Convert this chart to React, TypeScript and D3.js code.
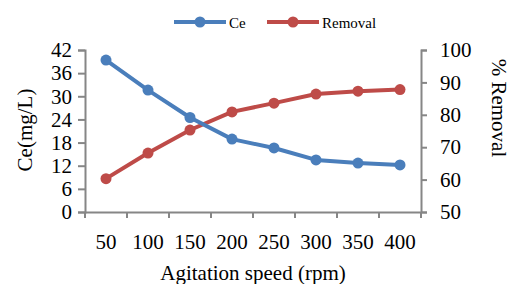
import { useEffect, useRef } from 'react';
import * as d3 from 'd3';

const speeds = ['50', '100', '150', '200', '250', '300', '350', '400'];
const ceValues = [39.4, 31.6, 24.5, 18.9, 16.6, 13.5, 12.7, 12.2];
const removalValues = [60.3, 68.2, 75.3, 80.9, 83.6, 86.4, 87.3, 87.8];
const leftTicks = [0, 6, 12, 18, 24, 30, 36, 42];
const rightTicks = [50, 60, 70, 80, 90, 100];

const BLUE = '#4a7ebb';
const RED = '#be4b48';
const AXIS = '#868686';
const FONT = "'Liberation Serif', 'Times New Roman', serif";

export default function App() {
  const svgRef = useRef<SVGSVGElement>(null);

  useEffect(() => {
    if (!svgRef.current) return;
    const svg = d3.select(svgRef.current);
    svg.selectAll('*').remove();

    const W = 512, H = 284;
    const left = 85, right = 421, top = 50, bottom = 212;

    const x = d3.scaleBand().domain(speeds).range([left, right]);
    const yL = d3.scaleLinear().domain([0, 42]).range([bottom, top]);
    const yR = d3.scaleLinear().domain([50, 100]).range([bottom, top]);

    const styleText = (sel: any, size = 21) =>
      sel.style('font-family', FONT).style('font-size', `${size}px`).attr('fill', '#000');

    // ── Axes ────────────────────────────────────────────────
    svg.append('g')
      .attr('transform', `translate(0,${bottom})`)
      .call(d3.axisBottom(x).tickSize(0).tickPadding(22))
      .call(g => g.select('.domain').attr('stroke', AXIS).attr('stroke-width', 2))
      .call(g => styleText(g.selectAll('text')));

    // x ticks at band boundaries
    const bounds = speeds.map(s => x(s)!).concat([right]);
    svg.append('g').selectAll('line').data(bounds).join('line')
      .attr('x1', d => d).attr('x2', d => d)
      .attr('y1', bottom).attr('y2', bottom + 6)
      .attr('stroke', AXIS).attr('stroke-width', 2);

    svg.append('g')
      .attr('transform', `translate(${left},0)`)
      .call(d3.axisLeft(yL).tickValues(leftTicks).tickSize(7).tickPadding(6))
      .call(g => g.select('.domain').attr('stroke', AXIS).attr('stroke-width', 2))
      .call(g => g.selectAll('.tick line').attr('stroke', AXIS).attr('stroke-width', 2))
      .call(g => styleText(g.selectAll('text')));

    svg.append('g')
      .attr('transform', `translate(${right},0)`)
      .call(d3.axisRight(yR).tickValues(rightTicks).tickSize(6).tickPadding(13))
      .call(g => g.select('.domain').attr('stroke', AXIS).attr('stroke-width', 2))
      .call(g => g.selectAll('.tick line').attr('stroke', AXIS).attr('stroke-width', 2))
      .call(g => styleText(g.selectAll('text')));

    // ── Titles ──────────────────────────────────────────────
    styleText(svg.append('text').attr('x', 253).attr('y', 280).attr('text-anchor', 'middle'))
      .text('Agitation speed (rpm)');
    styleText(svg.append('text').attr('transform', `translate(32,130) rotate(-90)`).attr('text-anchor', 'middle'))
      .text('Ce(mg/L)');
    styleText(svg.append('text').attr('transform', `translate(492,108) rotate(90)`).attr('text-anchor', 'middle'))
      .text('% Removal');

    // ── Series ──────────────────────────────────────────────
    const cx = (i: number) => x(speeds[i])! + x.bandwidth() / 2;
    const series = [
      { vals: removalValues, y: yR, color: RED },
      { vals: ceValues, y: yL, color: BLUE },
    ];
    series.forEach(s => {
      const line = d3.line<number>().x((_, i) => cx(i)).y(d => s.y(d));
      svg.append('path').datum(s.vals)
        .attr('fill', 'none').attr('stroke', s.color).attr('stroke-width', 4)
        .attr('stroke-linejoin', 'round').attr('d', line);
      svg.append('g').selectAll('circle').data(s.vals).join('circle')
        .attr('cx', (_, i) => cx(i)).attr('cy', d => s.y(d)).attr('r', 5.5)
        .attr('fill', s.color);
    });

    // ── Legend ──────────────────────────────────────────────
    const legend = [
      { name: 'Ce', color: BLUE, x0: 174 },
      { name: 'Removal', color: RED, x0: 267 },
    ];
    legend.forEach(l => {
      svg.append('line').attr('x1', l.x0).attr('x2', l.x0 + 52).attr('y1', 22).attr('y2', 22)
        .attr('stroke', l.color).attr('stroke-width', 4);
      svg.append('circle').attr('cx', l.x0 + 26).attr('cy', 22).attr('r', 5.5).attr('fill', l.color);
      styleText(svg.append('text').attr('x', l.x0 + 55).attr('y', 28), 15).text(l.name);
    });

    svg.attr('width', W).attr('height', H);
  }, []);

  return (
    <svg ref={svgRef} width={512} height={284}
      style={{ position: 'absolute', left: 0, top: 0, display: 'block', background: '#fff' }} />
  );
}
